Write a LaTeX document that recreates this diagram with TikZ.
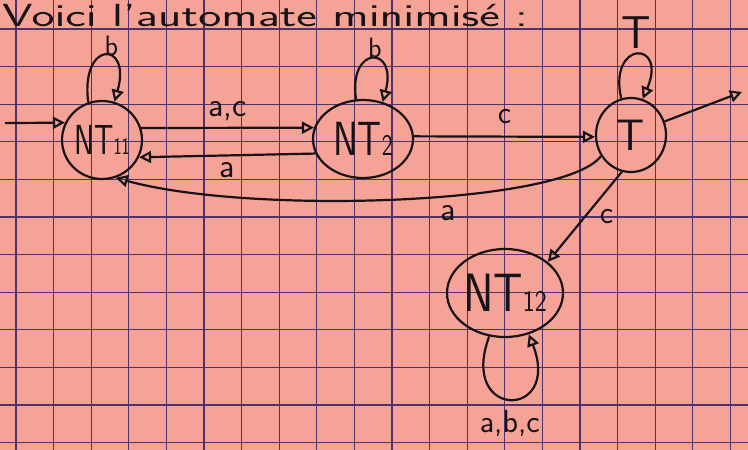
\documentclass[tikz,border=0pt]{standalone}
\usepackage{fontspec}
\usetikzlibrary{arrows.meta,shapes.geometric}
\definecolor{paper}{RGB}{244,163,150}
\definecolor{gridc}{RGB}{80,50,105}
\definecolor{ink}{RGB}{25,18,22}
\newcommand{\hw}[2]{\makebox[0pt]{\scalebox{#1}[1]{#2}}}
\newcommand{\sbs}[2]{{\fontsize{#1}{#1}\selectfont #2}}
\tikzset{
  st/.style={draw=ink, line width=2.2pt, ellipse, inner sep=0pt, text=ink},
  edge/.style={draw=ink, line width=2.2pt, -{Triangle[open,length=12pt,width=12pt]}},
  lbl/.style={font=\sffamily\fontsize{34}{34}\selectfont, text=ink, inner sep=0pt}
}
\begin{document}
\begin{tikzpicture}[x=1pt,y=1pt]
\useasboundingbox (0,0) rectangle (748,-450);
\fill[paper] (0,0) rectangle (748,-450);
\foreach \i in {0,...,19} {\draw[gridc, line width=1.2pt] (16+37.6*\i,0) -- (16+37.6*\i,-450);}
\foreach \j in {0,...,11} {\draw[gridc, line width=1.2pt] (0,-29-37.6*\j) -- (748,-29-37.6*\j);}

\node[lbl, anchor=base west, font=\sffamily\fontsize{32}{32}\selectfont] (title) at (2,-26) {\scalebox{1.53}[1]{Voici l'automate minimisé :}};

\node[st, minimum width=80pt, minimum height=78pt, font=\sffamily\fontsize{42}{42}\selectfont] (NT11) at (102,-140) {\hw{0.72}{NT\sbs{24}{11}}};
\node[st, minimum width=100pt, minimum height=78pt, font=\sffamily\fontsize{48}{48}\selectfont] (NT2) at (363,-139) {\hw{0.78}{NT\sbs{30}{2}}};
\node[st, minimum width=70pt, minimum height=74pt, font=\sffamily\fontsize{44}{44}\selectfont] (T) at (631,-135) {\hw{1}{T}};
\node[st, minimum width=116pt, minimum height=88pt, font=\sffamily\fontsize{54}{54}\selectfont] (NT12) at (505,-293) {\hw{0.85}{NT\sbs{30}{12}}};

\coordinate (init) at (5,-123);
\coordinate (fin) at (742,-92);

\draw[edge] (init) -- (NT11.155);
\draw[edge] (NT11.17) -- node[lbl, above=6pt] (lac) {a,c} (NT2.167);
\draw[edge] (NT2.197) -- node[lbl, below=6pt] (la1) {a} (NT11.335);
\draw[edge] (NT2.3) -- node[lbl, above=12pt, font=\sffamily\fontsize{32}{32}\selectfont] (lc1) {c} (T.183);
\draw[edge] (T.215) .. controls (565,-205) and (250,-215) .. node[lbl, pos=0.41, below=8pt] (la2) {a} (NT11.290);
\draw[edge] (T.256) -- node[lbl, right=14pt, pos=0.5, font=\sffamily\fontsize{32}{32}\selectfont] (lc2) {c} (NT12.36);
\draw[edge] (T.22) -- (fin);

\draw[edge] (NT11.110) .. controls (80,-40) and (132,-40) .. node[lbl, pos=0.62, above=1pt, font=\sffamily\fontsize{28}{28}\selectfont] (lb1) {b} (NT11.72);
\draw[edge] (NT2.100) .. controls (348,-45) and (398,-45) .. node[lbl, pos=0.55, above=1pt, font=\sffamily\fontsize{28}{28}\selectfont] (lb2) {b} (NT2.62);
\draw[edge] (T.105) .. controls (608,-40) and (668,-40) .. node[lbl, pos=0.5, above=5pt, font=\sffamily\fontsize{46}{46}\selectfont] (lT) {T} (T.72);
\draw[edge] (NT12.250) .. controls (458,-420) and (562,-420) .. node[lbl, pos=0.5, below=10pt, font=\sffamily\fontsize{32}{32}\selectfont] (labc) {a,b,c} (NT12.300);
\end{tikzpicture}
\end{document}
